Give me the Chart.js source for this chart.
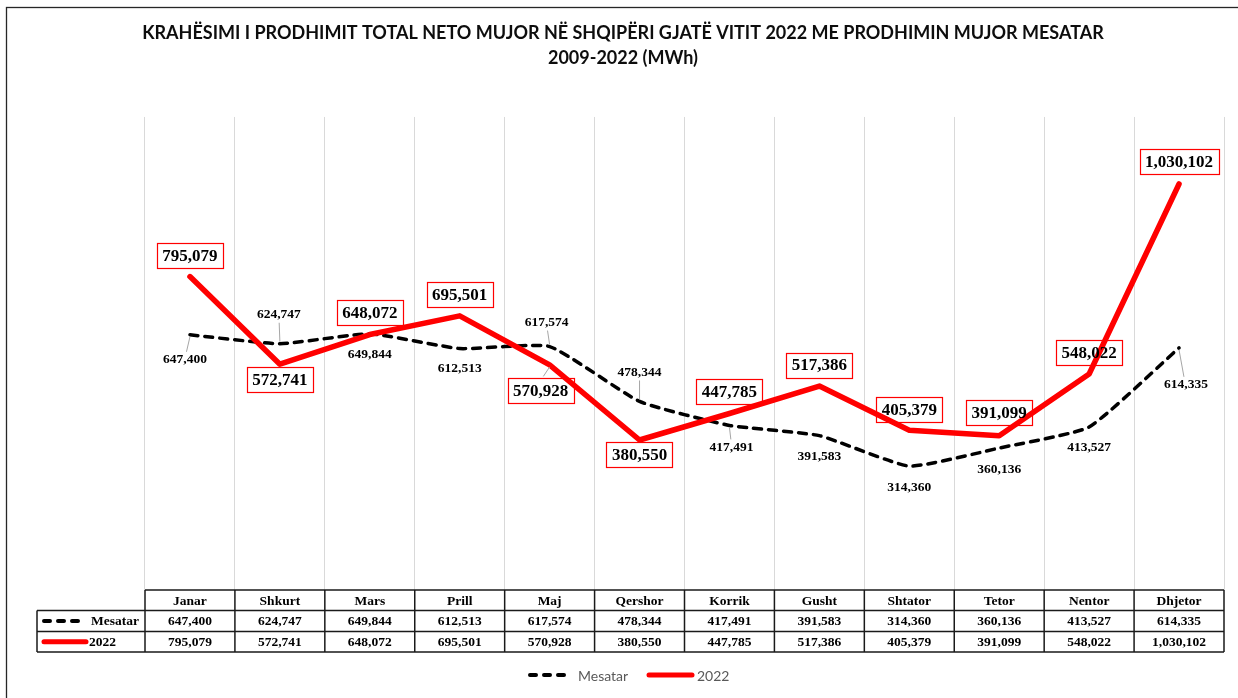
<!DOCTYPE html>
<html>
<head>
<meta charset="utf-8">
<script src="https://cdn.jsdelivr.net/npm/chart.js@4.4.1/dist/chart.umd.min.js"></script>
<style>
  body { margin: 0; background: #fff; }
  #wrap { width: 1238px; height: 698px; }
</style>
</head>
<body>
<div id="wrap"><canvas id="prodChart" width="1238" height="698"></canvas></div>
<script>
// data (MWh)
const months = ["Janar", "Shkurt", "Mars", "Prill", "Maj", "Qershor", "Korrik", "Gusht", "Shtator", "Tetor", "Nentor", "Dhjetor"];
const mesatar = [647400, 624747, 649844, 612513, 617574, 478344, 417491, 391583, 314360, 360136, 413527, 614335];
const viti2022 = [795079, 572741, 648072, 695501, 570928, 380550, 447785, 517386, 405379, 391099, 548022, 1030102];
const seriesNames = ["Mesatar", "2022"];

// label placement relative to each point: [dx, dy, leader line]
const mesatarLabelPos = [[-5, 25, true], [-1, -29, true], [0, 21], [0, 20], [-3, -24, true], [0, -29, true],
                         [2, 22, true], [0, 21], [0, 21], [0, 21], [0, 21], [7, 37, true]];
const redLabelPos = [[0, -21], [0, 15], [0, -22], [0, -21], [-9, 26, true], [0, 15],
                     [0, -22], [0, -21], [0, -21], [0, -23], [0, -21], [0, -22]];

const serif = '"Liberation Serif", "Times New Roman", serif';

function fmt(v) {
    return v.toLocaleString("en-US");
}

function drawLeader(ctx, px, py, lx, ly, hh) {
    let dir = ly > py ? 1 : -1;
    ctx.save();
    ctx.strokeStyle = "#a6a6a6";
    ctx.lineWidth = 1;
    ctx.beginPath();
    ctx.moveTo(px, py + dir * 2);
    ctx.lineTo(lx + (px - lx) * 0.3, ly - dir * (hh + 2));
    ctx.stroke();
    ctx.restore();
}

// value labels on the lines
const valueLabels = {
    id: "valueLabels",
    afterDatasetsDraw(chart) {
        let ctx = chart.ctx;
        let metaM = chart.getDatasetMeta(0);
        let metaR = chart.getDatasetMeta(1);
        ctx.save();
        ctx.textAlign = "center";
        ctx.textBaseline = "middle";

        ctx.font = "bold 13.5px " + serif;
        mesatar.forEach(function (v, i) {
            let p = metaM.data[i];
            let pos = mesatarLabelPos[i];
            let lx = p.x + pos[0], ly = p.y + pos[1];
            if (pos[2]) drawLeader(ctx, p.x, p.y, lx, ly, 6);
            ctx.fillStyle = "#000";
            ctx.fillText(fmt(v), lx, ly);
        });

        ctx.font = "bold 17px " + serif;
        viti2022.forEach(function (v, i) {
            let p = metaR.data[i];
            let pos = redLabelPos[i];
            let lx = p.x + pos[0], ly = p.y + pos[1];
            if (pos[2]) drawLeader(ctx, p.x, p.y, lx, ly, 12.5);
            let w = ctx.measureText(fmt(v)).width + 11;
            ctx.strokeStyle = "#ff0000";
            ctx.lineWidth = 1.2;
            ctx.strokeRect(Math.round(lx - w / 2) + 0.5, Math.round(ly - 12.5) + 0.5, Math.round(w), 25);
            ctx.fillStyle = "#000";
            ctx.fillText(fmt(v), lx, ly + 1);
        });
        ctx.restore();
    }
};

// data table under the plot, frame and bottom legend
const tableAndLegend = {
    id: "tableAndLegend",
    beforeDraw(chart) {
        let ctx = chart.ctx;
        ctx.save();
        ctx.fillStyle = "#fff";
        ctx.fillRect(0, 0, chart.width, chart.height);
        ctx.restore();
    },
    afterDraw(chart) {
        let ctx = chart.ctx;
        let xs = chart.scales.x;
        let area = chart.chartArea;
        let half = (xs.getPixelForValue(1) - xs.getPixelForValue(0)) / 2;
        let top = area.bottom;
        let rows = [top, top + 20.5, top + 41.5, top + 62];
        let keyLeft = 37;

        ctx.save();
        // outer frame
        ctx.strokeStyle = "#262626";
        ctx.lineWidth = 1.3;
        ctx.strokeRect(6.5, 7.5, 1400, 900);

        // cell texts
        ctx.font = "bold 13.5px " + serif;
        ctx.fillStyle = "#000";
        ctx.textAlign = "center";
        ctx.textBaseline = "middle";
        months.forEach(function (m, i) {
            let cx = xs.getPixelForValue(i);
            ctx.fillText(m, cx, (rows[0] + rows[1]) / 2 + 1);
            ctx.fillText(fmt(mesatar[i]), cx, (rows[1] + rows[2]) / 2 + 1);
            ctx.fillText(fmt(viti2022[i]), cx, (rows[2] + rows[3]) / 2 + 1);
        });

        // row keys
        let y1 = (rows[1] + rows[2]) / 2, y2 = (rows[2] + rows[3]) / 2;
        ctx.textAlign = "right";
        ctx.fillText(seriesNames[0], area.left - 6, y1 + 1);
        ctx.textAlign = "left";
        ctx.fillText(seriesNames[1], 89, y2 + 1);

        ctx.lineCap = "round";
        ctx.strokeStyle = "#000";
        ctx.lineWidth = 4;
        ctx.setLineDash([6, 8]);
        ctx.beginPath();
        ctx.moveTo(44, y1);
        ctx.lineTo(84, y1);
        ctx.stroke();
        ctx.setLineDash([]);
        ctx.strokeStyle = "#ff0000";
        ctx.lineWidth = 5;
        ctx.beginPath();
        ctx.moveTo(44, y2);
        ctx.lineTo(86, y2);
        ctx.stroke();

        // grid of the table
        ctx.lineCap = "butt";
        ctx.strokeStyle = "#1a1a1a";
        ctx.lineWidth = 1.5;
        ctx.beginPath();
        ctx.moveTo(area.left, rows[0]);
        ctx.lineTo(area.right, rows[0]);
        for (let r = 1; r < 4; r++) {
            ctx.moveTo(keyLeft, rows[r]);
            ctx.lineTo(area.right, rows[r]);
        }
        ctx.moveTo(keyLeft, rows[1]);
        ctx.lineTo(keyLeft, rows[3]);
        for (let i = 0; i < months.length; i++) {
            let x = xs.getPixelForValue(i) - half;
            ctx.moveTo(x, rows[0]);
            ctx.lineTo(x, rows[3]);
        }
        ctx.moveTo(area.right, rows[0]);
        ctx.lineTo(area.right, rows[3]);
        ctx.stroke();

        // bottom legend
        let ly = 675;
        let lx = chart.width / 2 + 9 - 100;
        ctx.lineCap = "round";
        ctx.strokeStyle = "#000";
        ctx.lineWidth = 4;
        ctx.setLineDash([6, 8]);
        ctx.beginPath();
        ctx.moveTo(lx + 2, ly);
        ctx.lineTo(lx + 42, ly);
        ctx.stroke();
        ctx.setLineDash([]);
        ctx.strokeStyle = "#ff0000";
        ctx.lineWidth = 5;
        ctx.beginPath();
        ctx.moveTo(lx + 121, ly);
        ctx.lineTo(lx + 164, ly);
        ctx.stroke();
        ctx.font = "14px Lato, sans-serif";
        ctx.fillStyle = "#595959";
        ctx.textAlign = "left";
        ctx.fillText(seriesNames[0], lx + 50, ly + 1);
        ctx.fillText(seriesNames[1], lx + 169, ly + 1);
        ctx.restore();
    }
};

let ctx = document.getElementById("prodChart").getContext("2d");

let chart = new Chart(ctx, {
    type: "line",
    data: {
        labels: months,
        datasets: [{
            label: seriesNames[0],
            data: mesatar,
            borderColor: "#000000",
            borderWidth: 3.5,
            borderDash: [8, 7],
            borderCapStyle: "round",
            tension: 0.15,
            pointRadius: 0,
            order: 1
        }, {
            label: seriesNames[1],
            data: viti2022,
            borderColor: "#ff0000",
            borderWidth: 5.5,
            borderCapStyle: "round",
            borderJoinStyle: "round",
            tension: 0,
            pointRadius: 0,
            order: 0
        }]
    },
    options: {
        responsive: false,
        animation: false,
        layout: { padding: { left: 8, right: 0, top: 0, bottom: 108 } },
        plugins: {
            legend: { display: false },
            tooltip: { enabled: false },
            title: {
                display: true,
                text: ["KRAHËSIMI I PRODHIMIT TOTAL NETO MUJOR NË SHQIPËRI GJATË VITIT 2022 ME PRODHIMIN MUJOR MESATAR",
                       "2009-2022 (MWh)"],
                color: "#0d0d0d",
                font: { family: "Lato, sans-serif", size: 18, weight: "bold", lineHeight: 1.38 },
                padding: { top: 21, bottom: 46.3 }
            }
        },
        scales: {
            x: {
                offset: true,
                ticks: { display: false },
                border: { display: false },
                grid: { offset: true, color: "#d9d9d9", lineWidth: 1, drawTicks: false },
                afterFit: function (scale) { scale.height = 0; }
            },
            y: {
                min: 0,
                max: 1200000,
                ticks: { display: false },
                border: { display: false },
                grid: { display: false },
                afterFit: function (scale) { scale.width = 137; }
            },
            yr: {
                position: "right",
                min: 0,
                max: 1200000,
                ticks: { display: false },
                border: { display: false },
                grid: { display: false },
                afterFit: function (scale) { scale.width = 14; }
            }
        }
    },
    plugins: [valueLabels, tableAndLegend]
});
</script>
</body>
</html>
